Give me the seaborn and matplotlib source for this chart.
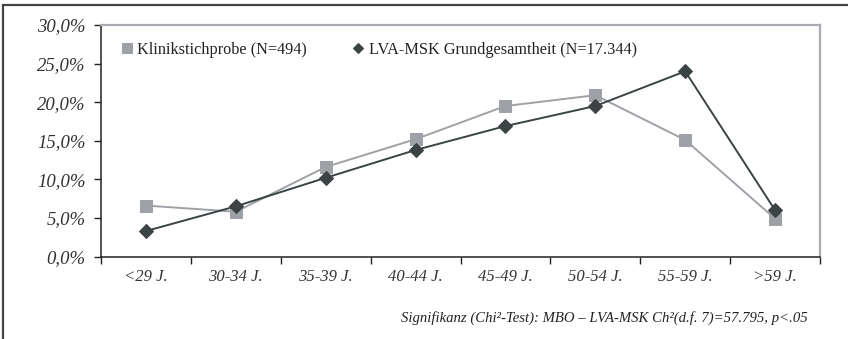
import matplotlib
matplotlib.use("Agg")
import matplotlib.pyplot as plt
from matplotlib.patches import Rectangle
from matplotlib.ticker import FixedLocator, NullFormatter
import seaborn as sns
import pandas as pd

# Age groups and share of each group (percent)
categories = ["<29 J.", "30-34 J.", "35-39 J.", "40-44 J.", "45-49 J.", "50-54 J.", "55-59 J.", ">59 J."]
klinik = [6.6, 5.8, 11.6, 15.2, 19.5, 20.9, 15.1, 4.9]
lva = [3.3, 6.5, 10.2, 13.8, 16.9, 19.5, 24.0, 6.0]
y_ticks = [0, 5, 10, 15, 20, 25, 30]
label_klinik = "Klinikstichprobe (N=494)"
label_lva = "LVA-MSK Grundgesamtheit (N=17.344)"
footnote = "Signifikanz (Chi²-Test): MBO – LVA-MSK Ch²(d.f. 7)=57.795, p<.05"

sns.set_theme(style="white")
plt.rcParams["font.family"] = ["Liberation Serif", "DejaVu Serif"]

c_klinik = "#9ea2a7"
c_lva = "#3b4345"

fig = plt.figure(figsize=(8.48, 3.39), dpi=100)
ax = fig.add_axes([101 / 848, 1 - 256.5 / 339, (820 - 101) / 848, (256.5 - 25) / 339])

df_k = pd.DataFrame({"Alter": categories, "Anteil": klinik})
df_l = pd.DataFrame({"Alter": categories, "Anteil": lva})

sns.lineplot(data=df_k, x="Alter", y="Anteil", sort=False, ax=ax, color=c_klinik,
             marker="s", markersize=8.5, markeredgecolor=c_klinik, linewidth=1.4,
             label=label_klinik, zorder=2)
sns.lineplot(data=df_l, x="Alter", y="Anteil", sort=False, ax=ax, color=c_lva,
             marker="D", markersize=7, markeredgecolor=c_lva, linewidth=1.4,
             label=label_lva, zorder=3)

ax.set_xlim(-0.5, len(categories) - 0.5)
ax.set_ylim(0, 30)
ax.set_xlabel("")
ax.set_ylabel("")

# Category boundaries carry the tick marks, centers carry the labels
ax.xaxis.set_major_locator(FixedLocator([i - 0.5 for i in range(len(categories) + 1)]))
ax.xaxis.set_major_formatter(NullFormatter())
ax.xaxis.set_minor_locator(FixedLocator(list(range(len(categories)))))
ax.set_xticklabels(categories, minor=True)
ax.tick_params(axis="x", which="major", direction="out", length=5, width=1, color="#222222", bottom=True)
ax.tick_params(axis="x", which="minor", length=0, pad=9, labelsize=12, labelcolor="#333333")
for t in ax.get_xticklabels(minor=True):
    t.set_fontstyle("italic")

ax.set_yticks(y_ticks)
ax.set_yticklabels([f"{v:.1f}%".replace(".", ",") for v in y_ticks])
ax.tick_params(axis="y", direction="out", length=5, width=1, color="#222222", left=True,
               labelsize=13.5, labelcolor="#333333", pad=6)
for t in ax.get_yticklabels():
    t.set_fontstyle("italic")

for side in ("left", "bottom"):
    ax.spines[side].set_color("#222222")
    ax.spines[side].set_linewidth(1.1)
for side in ("top", "right"):
    ax.spines[side].set_color("#a8abaf")
    ax.spines[side].set_linewidth(1.6)

leg = ax.legend(loc="upper left", bbox_to_anchor=(0.014, 0.97), ncol=2, frameon=False,
                fontsize=11.7, handlelength=0.7, handletextpad=0.3, columnspacing=2.8,
                borderaxespad=0.2, markerscale=0.8)
for h in leg.legend_handles:
    h.set_linestyle("none")
for t in leg.get_texts():
    t.set_color("#222222")

fig.text(808 / 848, 1 - 318 / 339, footnote, ha="right", va="center",
         fontsize=10.6, fontstyle="italic", color="#222222")

# Surrounding frame of the figure
fig.add_artist(Rectangle((3 / 848, -0.1), 1.2, 1 - 5 / 339 + 0.1, transform=fig.transFigure,
                         fill=False, edgecolor="#444444", linewidth=1.6, clip_on=False))

fig.savefig("out.png", dpi=100)
